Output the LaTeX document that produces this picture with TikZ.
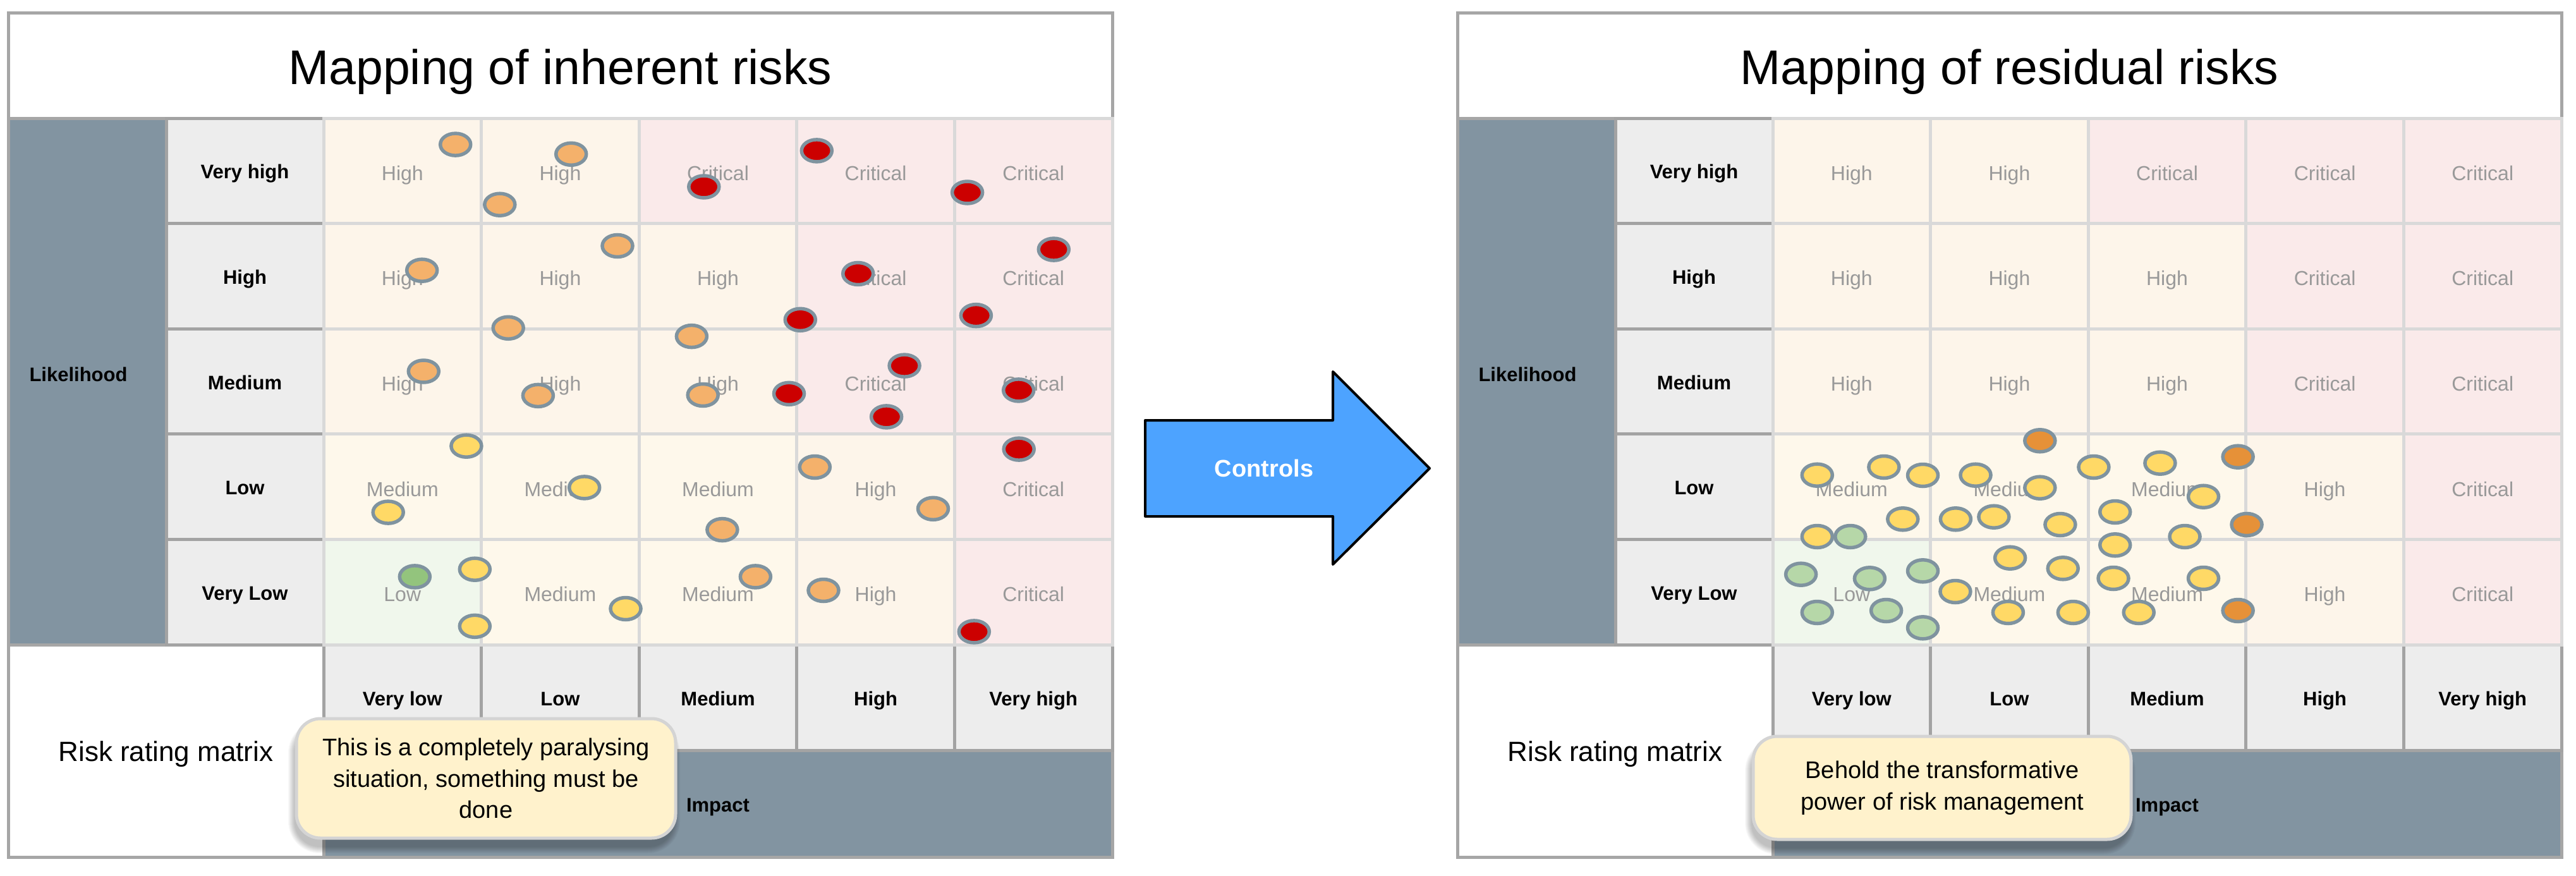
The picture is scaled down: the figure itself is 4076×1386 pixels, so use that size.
\documentclass[tikz,border=0pt]{standalone}
\usepackage{fontspec}
\setmainfont{Liberation Sans}
\definecolor{framegray}{HTML}{A6A6A6}
\definecolor{labline}{HTML}{A3A3A3}
\definecolor{band}{HTML}{8294A1}
\definecolor{labfill}{HTML}{EDEDED}
\definecolor{gridline}{HTML}{D9D9D9}
\definecolor{hifill}{HTML}{FDF5EA}
\definecolor{crfill}{HTML}{FAEAEA}
\definecolor{mdfill}{HTML}{FEF8EB}
\definecolor{lofill}{HTML}{F0F7EC}
\definecolor{celltext}{HTML}{999999}
\definecolor{dotline}{HTML}{7F939F}
\definecolor{dorange}{HTML}{F4B16B}
\definecolor{dred}{HTML}{CC0000}
\definecolor{dyellow}{HTML}{FFD966}
\definecolor{dgreen}{HTML}{93C47D}
\definecolor{dlgreen}{HTML}{B6D7A8}
\definecolor{ddorange}{HTML}{E69138}
\definecolor{arrowblue}{HTML}{4DA3FF}
\definecolor{calfill}{HTML}{FFF2CC}
\definecolor{calline}{HTML}{D4D4D4}
\tikzset{
  titlebox/.style={draw=framegray, line width=5pt, fill=white, inner sep=0pt,
    minimum width=1747pt, minimum height=166pt, text height=60pt, text depth=0pt,
    font=\fontsize{77}{90}\selectfont},
  bandnode/.style={draw=framegray, line width=5pt, fill=band, inner sep=0pt},
  axislab/.style={inner sep=0pt, font=\fontsize{31}{37}\selectfont\bfseries},
  ratingbox/.style={draw=framegray, line width=5pt, fill=white, inner sep=0pt,
    minimum width=499pt, minimum height=336pt, text height=32pt, text depth=0pt,
    font=\fontsize{44}{52}\selectfont},
  labcell/.style={draw=labline, fill=labfill, line width=5pt, inner sep=0pt,
    minimum width=249.6pt, minimum height=166.6pt, text height=25pt, text depth=0pt,
    font=\fontsize{31}{37}\selectfont\bfseries},
  riskcell/.style={draw=gridline, line width=5pt, inner sep=0pt,
    minimum width=249.6pt, minimum height=166.6pt, text height=30pt, text depth=0pt,
    text=celltext, font=\fontsize{32}{38}\selectfont},
  riskdot/.style={draw=dotline, line width=5.5pt},
  callout/.style={draw=calline, fill=calfill, line width=5pt, rounded corners=38pt,
    align=center, inner sep=0pt, font=\fontsize{38}{49.5}\selectfont},
  calshadow/.style={fill=black, opacity=0.022},
  bigarrow/.style={draw=black, fill=arrowblue, line width=4pt, line join=round},
  arrowtext/.style={text=white, inner sep=0pt, font=\fontsize{38}{44}\selectfont\bfseries},
}
\newcommand{\riskpanel}[3]{%
\begin{scope}[xshift=#1pt]
  \node[titlebox] (#2-title) at (886.5,104) {#3};
  \node[bandnode, minimum width=250pt, minimum height=833pt] (#2-lband) at (138,603.5) {};
  \node[axislab] (#2-lik) at (124,592) {Likelihood};
  \node[ratingbox] (#2-rating) at (262.5,1188) {Risk rating matrix};
  \node[bandnode, axislab, text height=25pt, text depth=0pt, minimum width=1248pt, minimum height=169pt] (#2-impact) at (1136,1271.5) {Impact};
  \foreach \r/\lab in {1/Very high,2/High,3/Medium,4/Low,5/Very Low}
    \node[labcell, minimum width=249pt] (#2-row\r) at (387.5,{187+(\r-0.5)*166.6}) {\lab};
  \foreach \c/\lab in {1/Very low,2/Low,3/Medium,4/High,5/Very high}
    \node[labcell, minimum height=167pt] (#2-col\c) at ({512+(\c-0.5)*249.6},1103.5) {\lab};
  \foreach \c/\r/\lab/\fc in {
      1/1/High/hifill,2/1/High/hifill,3/1/Critical/crfill,4/1/Critical/crfill,5/1/Critical/crfill,
      1/2/High/hifill,2/2/High/hifill,3/2/High/hifill,4/2/Critical/crfill,5/2/Critical/crfill,
      1/3/High/hifill,2/3/High/hifill,3/3/High/hifill,4/3/Critical/crfill,5/3/Critical/crfill,
      1/4/Medium/mdfill,2/4/Medium/mdfill,3/4/Medium/mdfill,4/4/High/hifill,5/4/Critical/crfill,
      1/5/Low/lofill,2/5/Medium/mdfill,3/5/Medium/mdfill,4/5/High/hifill,5/5/Critical/crfill}
    \node[riskcell, fill=\fc] (#2-c\c r\r) at ({512+(\c-0.5)*249.6},{187+(\r-0.5)*166.6}) {\lab};
\end{scope}}
\begin{document}
\begin{tikzpicture}[x=1pt,y=-1pt]
\useasboundingbox (0,0) rectangle (4076,1386);
\fill[white] (0,0) rectangle (4076,1386);

\riskpanel{0}{L}{Mapping of inherent risks}
\riskpanel{2293}{R}{Mapping of residual risks}

% inherent risk dots
\foreach \x/\y/\col in {
  720.7/228.6/dorange, 903.7/243.8/dorange, 790.8/323.7/dorange, 977/389/dorange,
  667.7/427.7/dorange, 804.2/518.8/dorange, 670.3/587.5/dorange, 851.4/625.9/dorange,
  1094.4/532.1/dorange, 1112.2/625/dorange, 1289.3/739/dorange, 1476.5/804.8/dorange,
  1142.9/838.1/dorange, 1195.4/912.4/dorange, 1303/934/dorange,
  1113.8/295.5/dred, 1292.3/238.4/dred, 1530.6/304.5/dred, 1357.7/433/dred,
  1667.3/394.6/dred, 1266.3/505.8/dred, 1544.4/499.1/dred, 1248.5/622.8/dred,
  1431.1/578.6/dred, 1402.6/659.4/dred, 1611.7/617.4/dred, 1612.2/710.6/dred,
  1541.3/999.4/dred,
  737.9/705.7/dyellow, 614.2/810.6/dyellow, 924.7/771.4/dyellow, 751.3/900.7/dyellow,
  751.3/990.8/dyellow, 990/963/dyellow,
  656.3/912.4/dgreen}
  \path[riskdot, fill=\col] (\x,\y) ellipse [x radius=24pt, y radius=17.5pt];

% residual risk dots
\foreach \x/\y/\col in {
  3227.8/697.3/ddorange, 2875.3/751.7/dyellow, 2980.9/739/dyellow, 3042.5/752/dyellow,
  3126/751.7/dyellow, 3227.8/771.7/dyellow, 3312.9/739/dyellow, 3417.9/732.7/dyellow,
  3541.1/722.7/ddorange, 3486.5/785.7/dyellow, 3010.8/821.3/dyellow, 3094.4/821.3/dyellow,
  3154.9/817.7/dyellow, 3259.9/830/dyellow, 3346.7/810/dyellow, 3555/830/ddorange,
  2875.3/849/dyellow, 2927.8/849/dlgreen, 3457/849/dyellow, 3346.7/862.3/dyellow,
  2849.6/908.7/dlgreen, 2958.4/915.3/dlgreen, 3042.5/903.3/dlgreen, 3180.6/882.7/dyellow,
  3264.2/899.3/dyellow, 3344/915/dyellow, 3486.5/915/dyellow, 3093.9/936/dyellow,
  2875.3/969/dlgreen, 2984.6/966/dlgreen, 3042.5/993.3/dlgreen, 3177.4/969/dyellow,
  3280.3/969/dyellow, 3384.2/969/dyellow, 3541.1/966/ddorange}
  \path[riskdot, fill=\col] (\x,\y) ellipse [x radius=24pt, y radius=17.5pt];

% callout shadows
\foreach \k in {0,...,10} {
  \fill[calshadow, rounded corners={(40+\k)*1pt}] ({469-3-\k},{1137+14-\k}) rectangle ({1069-3+\k},{1326+14+\k});
  \fill[calshadow, rounded corners={(40+\k)*1pt}] ({2774-3-\k},{1165+14-\k}) rectangle ({3372-3+\k},{1328+14+\k});
}
\node[callout, minimum width=600pt, minimum height=189pt] (noteL) at (769,1231.5)
  {This is a completely paralysing\\situation, something must be\\done};
\node[callout, minimum width=598pt, minimum height=163pt] (noteR) at (3073,1246.5)
  {Behold the transformative\\power of risk management};

% controls arrow
\draw[bigarrow] (1812,665) -- (2109,665) -- (2109,588) -- (2262,741) -- (2109,893) -- (2109,817) -- (1812,817) -- cycle;
\node[arrowtext] (ctrl) at (2000,741) {Controls};
\end{tikzpicture}
\end{document}
